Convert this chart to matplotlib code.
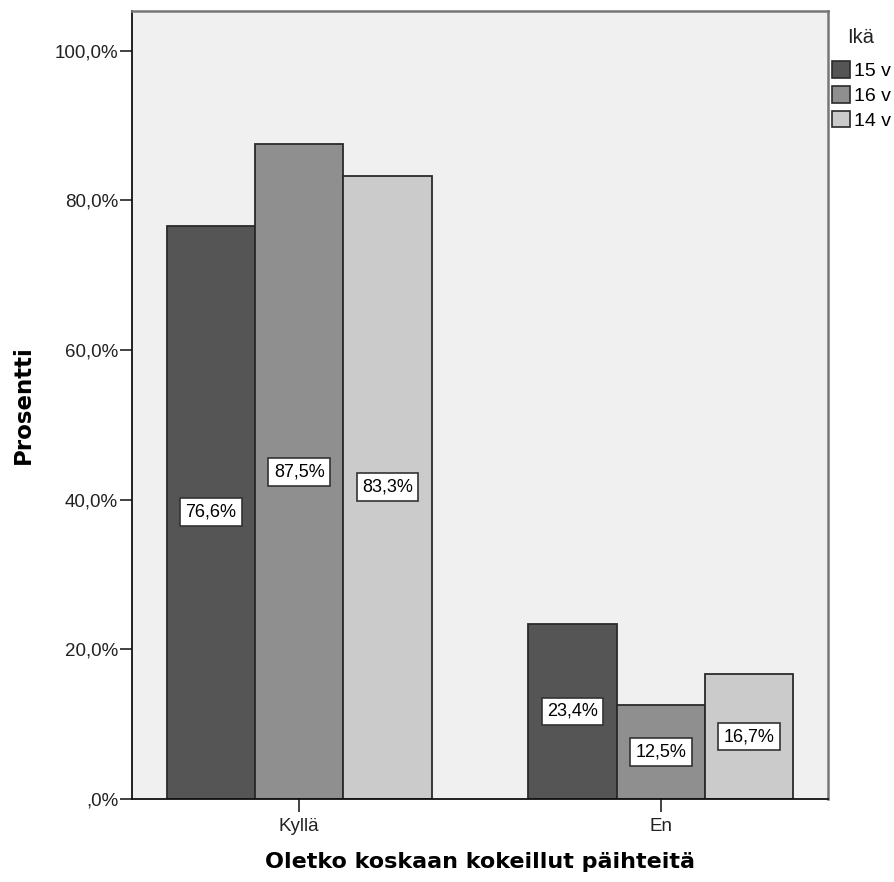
import matplotlib
matplotlib.use("Agg")
import matplotlib.pyplot as plt
import numpy as np
from matplotlib.patches import Patch

# percentages by answer, one list per age group
answers = ["Kyllä", "En"]
age_groups = ["15 v", "16 v", "14 v"]
pct_15 = [76.6, 23.4]
pct_16 = [87.5, 12.5]
pct_14 = [83.3, 16.7]
series = [pct_15, pct_16, pct_14]
colors = ["#555555", "#8f8f8f", "#cbcbcb"]

plt.rcParams["font.family"] = ["Liberation Sans", "DejaVu Sans"]

fig = plt.figure(figsize=(8.94, 8.82), dpi=100)
ax = fig.add_axes([0.1477, 0.0941, 0.7785, 0.8934])
ax.set_facecolor("#f0f0f0")

x = np.arange(len(answers))
w = 0.244
for i, (vals, col) in enumerate(zip(series, colors)):
    pos = x + (i - 1) * w
    ax.bar(pos, vals, width=w, color=col, edgecolor="#2a2a2a", linewidth=1.3, zorder=2)
    for p, v in zip(pos, vals):
        ax.text(p, v / 2, f"{v:.1f}%".replace(".", ","), ha="center", va="center",
                fontsize=13, color="black", zorder=3,
                bbox=dict(boxstyle="square,pad=0.3", fc="white", ec="#333333", lw=1.2))

ax.set_xlim(-0.4626, 1.4626)
ax.set_ylim(0, 105.3)
ax.set_yticks([0, 20, 40, 60, 80, 100])
ax.set_yticklabels([",0%", "20,0%", "40,0%", "60,0%", "80,0%", "100,0%"])
ax.set_xticks(x)
ax.set_xticklabels(answers)
ax.tick_params(axis="both", labelsize=13.5, length=9, width=1.2, color="#222222",
               labelcolor="#222222")
ax.tick_params(axis="y", pad=1)
ax.tick_params(axis="x", pad=5)

for side in ["left", "bottom"]:
    ax.spines[side].set_color("#111111")
    ax.spines[side].set_linewidth(1.3)
for side in ["top", "right"]:
    ax.spines[side].set_color("#777777")
    ax.spines[side].set_linewidth(1.8)

ax.set_ylabel("Prosentti", family="DejaVu Sans", fontweight="bold", fontsize=16.5, labelpad=14)
ax.set_xlabel("Oletko koskaan kokeillut päihteitä", family="DejaVu Sans",
              fontweight="bold", fontsize=16, labelpad=12)

# legend title placed on its own, entries below it
fig.text(0.963, 0.958, "Ikä", ha="center", va="center", fontsize=14.5, color="#222222")
handles = [Patch(facecolor=c, edgecolor="#2a2a2a", linewidth=1.2) for c in colors]
fig.legend(handles, age_groups, loc="upper left",
           bbox_to_anchor=(0.9306, 0.931), frameon=False, fontsize=14,
           handlelength=0.95, handleheight=0.95, handletextpad=0.2,
           labelspacing=0.3, borderaxespad=0, borderpad=0)

plt.savefig("out.png", dpi=100)
